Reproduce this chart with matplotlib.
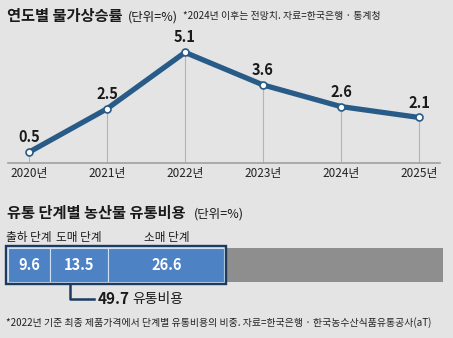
import matplotlib
matplotlib.use("Agg")
import matplotlib.pyplot as plt
from matplotlib.patches import Rectangle

# --- data ---
years = ["2020년", "2021년", "2022년", "2023년", "2024년", "2025년"]
inflation = [0.5, 2.5, 5.1, 3.6, 2.6, 2.1]

stages = ["출하 단계", "도매 단계", "소매 단계"]
stage_costs = [9.6, 13.5, 26.6]
total_cost = 49.7

BG = "#e4e4e4"
LINE = "#285b87"
NAVY = "#1d3b5e"
BLUE = "#4d82c4"
GRAY = "#8e8e8e"
CJK = "Noto Sans CJK KR"

plt.rcParams["font.family"] = [CJK, "DejaVu Sans"]

W, H = 453, 338
fig = plt.figure(figsize=(W / 100, H / 100), dpi=100, facecolor=BG)


def fx(px):
    return px / W


def fy(py):
    return 1 - py / H


# --- 1. line chart ---
ax = fig.add_axes([fx(8), fy(163), fx(432), 118 / H])
ax.set_facecolor(BG)
xs = list(range(len(years)))
for x, v in zip(xs, inflation):
    ax.plot([x, x], [0, v], color="#b4b4b4", lw=0.8, zorder=1)
ax.plot(xs, inflation, color=LINE, lw=3.8, solid_capstyle="round", zorder=2)
ax.plot(xs, inflation, "o", ms=5, mfc="white", mec=LINE, mew=1.2, zorder=3)
for x, v in zip(xs, inflation):
    ax.annotate(f"{v}", (x, v), xytext=(0, 5), textcoords="offset points",
                ha="center", va="bottom", fontsize=10.5, fontweight="bold",
                color="#1a1a1a")
ax.set_xlim(-0.27, 5.27)
ax.set_ylim(0, 5.44)
ax.set_xticks(xs)
ax.set_xticklabels(years, fontsize=8.5, color="#222222")
ax.tick_params(axis="x", length=0, pad=3)
ax.set_yticks([])
for s in ["top", "left", "right"]:
    ax.spines[s].set_visible(False)
ax.spines["bottom"].set_color("#a0a0a0")
ax.spines["bottom"].set_linewidth(1.2)

fig.text(fx(7), fy(16), "연도별 물가상승률", fontsize=11, fontweight="bold",
         va="center", ha="left", color="#1a1a1a")
fig.text(fx(128), fy(17), "(단위=%)", fontsize=9, va="center", ha="left", color="#1a1a1a")
fig.text(fx(183), fy(16), "*2024년 이후는 전망치. 자료=한국은행 · 통계청", fontsize=7.1,
         va="center", ha="left", color="#222222")

# --- 2. stacked bar ---
bx = fig.add_axes([fx(8), fy(305), fx(435), 70 / H])
bx.set_facecolor(BG)
bx.axis("off")
bx.set_xlim(0, 100)
bx.set_ylim(-1.176, 0.882)

left = 0
for name, v in zip(stages, stage_costs):
    bx.barh(0, v, left=left, height=1, color=BLUE, edgecolor="#cfe0f2", lw=0.8, zorder=2)
    bx.text(left + v / 2, 0, f"{v}", ha="center", va="center", color="white",
            fontsize=10.5, fontweight="bold", zorder=4)
    bx.text(left + v / 2, 0.8, name, ha="center", va="center", fontsize=8.4,
            color="#1a1a1a")
    left += v
bx.barh(0, 100 - total_cost, left=total_cost + 0.7, height=1, color=GRAY, lw=0, zorder=1)
bx.add_patch(Rectangle((-0.4, -0.56), total_cost + 0.8, 1.12, fill=False,
                       edgecolor=NAVY, lw=1.7, zorder=3, clip_on=False))

bx.plot([14.3, 14.3, 19.8], [-0.56, -1.0, -1.0], color=NAVY, lw=1.8, clip_on=False)
bx.text(20.5, -1.0, f"{total_cost}", ha="left", va="center", fontsize=11,
        fontweight="bold", color="#1a1a1a")
bx.text(28.5, -1.0, "유통비용", ha="left", va="center", fontsize=10, color="#1a1a1a")

fig.text(fx(7), fy(213), "유통 단계별 농산물 유통비용", fontsize=11, fontweight="bold",
         va="center", ha="left", color="#1a1a1a")
fig.text(fx(194), fy(214), "(단위=%)", fontsize=9, va="center", ha="left", color="#1a1a1a")
fig.text(fx(6), fy(323),
         "*2022년 기준 최종 제품가격에서 단계별 유통비용의 비중. 자료=한국은행 · 한국농수산식품유통공사(aT)",
         fontsize=7.1, va="center", ha="left", color="#222222")

fig.savefig("out.png", dpi=100, facecolor=BG)
